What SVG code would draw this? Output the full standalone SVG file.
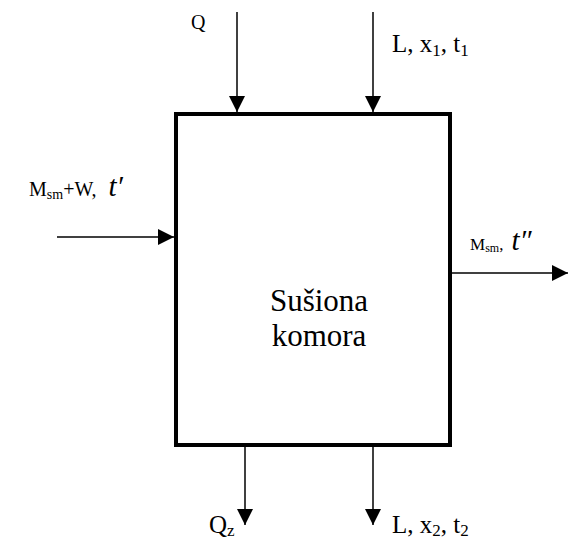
<svg xmlns="http://www.w3.org/2000/svg" width="568" height="543" viewBox="0 0 568 543">
<style>
text{font-family:"Liberation Serif","DejaVu Serif",serif;fill:#000}
.ln{stroke:#000;stroke-width:1.5;fill:none}
.lbl{font-size:25px}
.it{font-style:italic;font-size:29px}
.sub{font-size:17px}
.big{font-size:31px}
</style>
<defs>
<marker id="ahl" viewBox="0 0 16 16" refX="16" refY="8" markerWidth="16" markerHeight="16" markerUnits="userSpaceOnUse" orient="auto">
<path d="M0,0 L16,8 L0,16 Z" fill="#000"/>
</marker>
</defs>
<g id="connectors">
<line class="ln" x1="237" y1="12" x2="237" y2="112" marker-end="url(#ahl)"/>
<line class="ln" x1="373" y1="12" x2="373" y2="112" marker-end="url(#ahl)"/>
<line class="ln" x1="57" y1="237" x2="174" y2="237" marker-end="url(#ahl)"/>
<line class="ln" x1="452" y1="273" x2="568" y2="273" marker-end="url(#ahl)"/>
<line class="ln" x1="245" y1="446" x2="245" y2="525" marker-end="url(#ahl)"/>
<line class="ln" x1="373" y1="446" x2="373" y2="525" marker-end="url(#ahl)"/>
</g>
<g id="komora">
<rect x="176" y="114" width="274" height="331" fill="none" stroke="#000" stroke-width="4"/>
<text class="big" x="319" y="311" text-anchor="middle">Sušiona</text>
<text class="big" x="319" y="346" text-anchor="middle">komora</text>
</g>
<g id="label-Q">
<text x="191" y="29" font-size="20">Q</text>
</g>
<g id="label-L1">
<text x="392" y="52" class="lbl">L, x<tspan class="sub" dy="4">1</tspan><tspan dy="-4">, t</tspan><tspan class="sub" dy="4">1</tspan></text>
</g>
<g id="label-in">
<text x="29" y="196" font-size="20">M<tspan font-size="14" dy="3">sm</tspan><tspan dy="-3">+W,</tspan><tspan class="it" dx="12">t′</tspan></text>
</g>
<g id="label-out">
<text x="470" y="250" font-size="17">M<tspan font-size="12" dy="2">sm</tspan><tspan dy="-2">,</tspan><tspan class="it" dx="8">t″</tspan></text>
</g>
<g id="label-Qz">
<text x="209" y="533" class="lbl">Q<tspan class="sub" dy="3">z</tspan></text>
</g>
<g id="label-L2">
<text x="392" y="533" class="lbl">L, x<tspan class="sub" dy="3">2</tspan><tspan dy="-3">, t</tspan><tspan class="sub" dy="3">2</tspan></text>
</g>
</svg>
